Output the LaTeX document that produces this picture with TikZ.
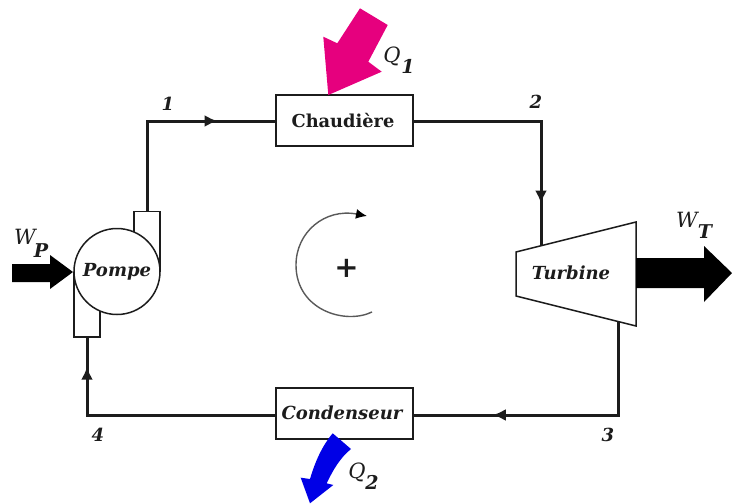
\documentclass[tikz,border=0pt]{standalone}
\usepackage{fontspec}
\setmainfont{DejaVu Serif}
\usetikzlibrary{arrows.meta,decorations.markings}
\definecolor{lin}{HTML}{1C1C1C}
\definecolor{mag}{HTML}{E6007E}
\definecolor{blu}{HTML}{0000E6}
\tikzset{
  x=1pt,y=-1pt,
  pipe/.style={draw=lin,line width=3pt,line join=miter},
  outl/.style={draw=lin,line width=1.5pt},
  flowmark/.style={postaction={decorate},decoration={markings,mark=at position #1 with {\arrow{Latex[length=13pt,width=12pt]}}}},
  box/.style={outl,fill=white,minimum width=137pt,minimum height=51pt,inner sep=0pt},
  unit/.style={font=\bfseries\itshape\fontsize{18}{20}\selectfont,text=lin,inner sep=0pt},
  unitup/.style={font=\bfseries\fontsize{17.8}{20}\selectfont,text=lin,inner sep=0pt},
  num/.style={font=\bfseries\itshape\fontsize{18}{20}\selectfont,text=lin,inner sep=0pt},
  sym/.style={font=\itshape\fontsize{21}{23}\selectfont,text=lin,inner sep=0pt},
  sub/.style={font=\bfseries\itshape\fontsize{19}{21}\selectfont,text=lin,inner sep=0pt},
}
\begin{document}
\begin{tikzpicture}
\useasboundingbox (0,0) rectangle (732,504);
% components
\node[box] (ch) at (344.5,120.5) {};
\node[unitup] at (343,120.5) {Chaudière};
\node[box] (co) at (344.5,413.5) {};
\node[unit] at (342,413) {Condenseur};
\node[outl,rectangle,minimum width=26pt,minimum height=60pt,inner sep=0pt,anchor=south] (us) at (147,272) {};
\node[outl,rectangle,minimum width=26pt,minimum height=64pt,inner sep=0pt,anchor=north] (ls) at (87,272) {};
\node[outl,circle,fill=white,minimum size=86pt,inner sep=0pt] (pompe) at (117,271.5) {};
\node[unit] at (117,272) {Pompe};
\draw[outl,fill=white,line join=miter] (516,252) coordinate (ta) -- (636,222) coordinate (tb) -- (636,326) coordinate (tc) -- (516,296) coordinate (td) -- cycle;
\node[unit] (tu) at (571,273) {Turbine};
% corners and free ends
\coordinate (c1) at (147,121);
\coordinate (c2) at (541,121);
\coordinate (t2) at (541,245);
\coordinate (t3) at (618,321);
\coordinate (c3) at (618,415);
\coordinate (c4) at (87,415);
% pipes
\draw[pipe,flowmark=0.735] (us.north) -- (c1) -- (ch.west |- c1);
\draw[pipe,flowmark=0.835] (ch.east |- c2) -- (c2) -- (t2);
\draw[pipe,flowmark=0.735] (t3) -- (c3) -- (co.east |- c3);
\draw[pipe,flowmark=0.89] (co.west |- c4) -- (c4) -- (ls.south);
% energy arrows
\fill[black] (636,258) -- (704,258) -- (704,246) -- (732,273) -- (704,302) -- (704,288) -- (636,288) -- cycle;
\fill[black] (12,264) -- (50,264) -- (50,255) -- (73,272) -- (50,289) -- (50,282) -- (12,282) -- cycle;
\fill[mag] (328.3,95) -- (381.7,71.7) -- (368.3,61.7) -- (387.7,25) -- (360,8.3) -- (337.3,43.3) -- (323.3,36.7) -- cycle;
\fill[blu] (332.7,433.3) -- (351,449) .. controls (340,458) and (333,470) .. (326.7,483.3) -- (333.3,485) -- (310,503.3) -- (300.7,477.7) -- (310,479) .. controls (315,462) and (322,446) .. cycle;
% cycle symbol
\draw[line width=1.4pt,draw=black!65,-{Latex[length=11pt,width=10pt,black]}] (372,312) .. controls (345,325) and (296,310) .. (296,265) .. controls (296,232) and (325,208) .. (367,216);
\node[font=\bfseries\fontsize{29}{32}\selectfont,text=lin,inner sep=0pt] (pl) at (346.5,268) {+};
% labels
\node[num] (n1) at (168,104) {1};
\node[num] (n2) at (536,102) {2};
\node[num] (n3) at (608,435) {3};
\node[num] (n4) at (98,434.5) {4};
\node[sym] (q1) at (392,56) {Q};
\node[sub] (q1s) at (408,66) {1};
\node[sym] (q2) at (357,472) {Q};
\node[sub] (q2s) at (372,482) {2};
\node[sym] (wp) at (25,237) {W};
\node[sub] (wps) at (41,251) {P};
\node[sym] (wt) at (687,220) {W};
\node[sub] (wts) at (705,232) {T};
\end{tikzpicture}
\end{document}
